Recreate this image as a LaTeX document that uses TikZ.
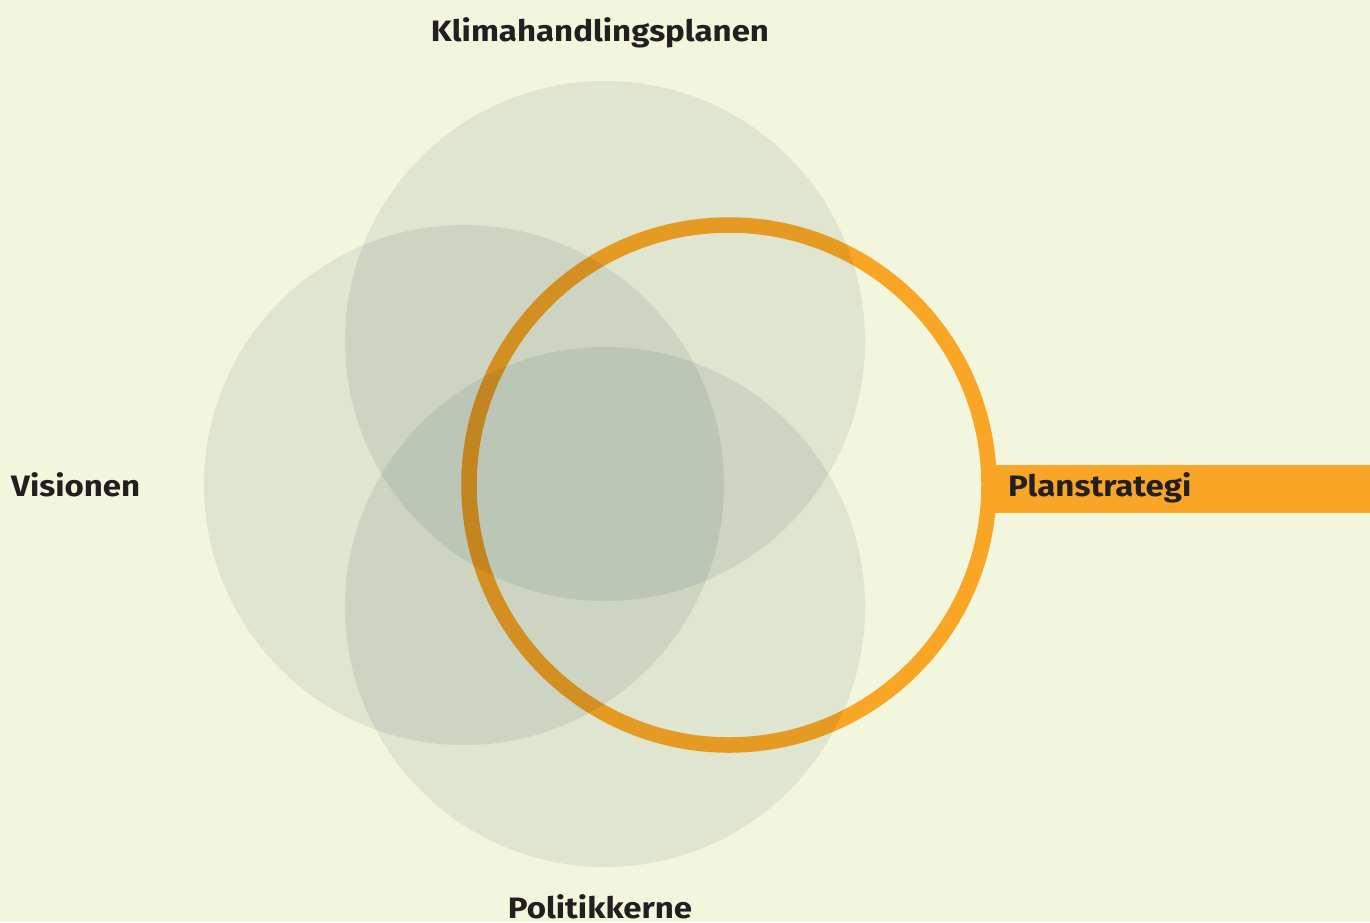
\documentclass[tikz,border=0pt]{standalone}
\usepackage{fontspec}
\setmainfont{Fira Sans}[FakeStretch=1.12]
\definecolor{bg}{RGB}{242,246,220}
\definecolor{circ}{RGB}{235,238,240}
\definecolor{ring}{RGB}{249,166,39}
\definecolor{txt}{RGB}{35,31,32}
\begin{document}
\begin{tikzpicture}[x=1pt,y=-1pt,
  lbl/.style={font=\fontsize{29.5}{31}\selectfont\bfseries, text=txt, inner sep=0pt},
  venn/.style={circle, fill=circ, minimum size=520pt, inner sep=0pt, draw=none}]
\fill[bg] (0,0) rectangle (1370,922);
\useasboundingbox (0,0) rectangle (1370,922);
% ring and bar
\node[circle, draw=ring, line width=15.5pt, minimum size=520pt, inner sep=0pt] (ring) at (729,485) {};
\fill[ring] (990,465) rectangle (1370,513);
% circles with multiply blend
\begin{scope}[blend mode=multiply]
\node[venn] (top) at (605,341) {};
\node[venn] (left) at (464,485) {};
\node[venn] (bottom) at (605,607) {};
\end{scope}
% labels
\node[lbl, anchor=base] (klima) at (600,41) {Klimahandlingsplanen};
\node[lbl, anchor=base west] (vis) at (11,496) {Visionen};
\node[lbl, anchor=base west] (plan) at (1008,496) {Planstrategi};
\node[lbl, anchor=base] (pol) at (600,918) {Politikkerne};
\end{tikzpicture}
\end{document}
